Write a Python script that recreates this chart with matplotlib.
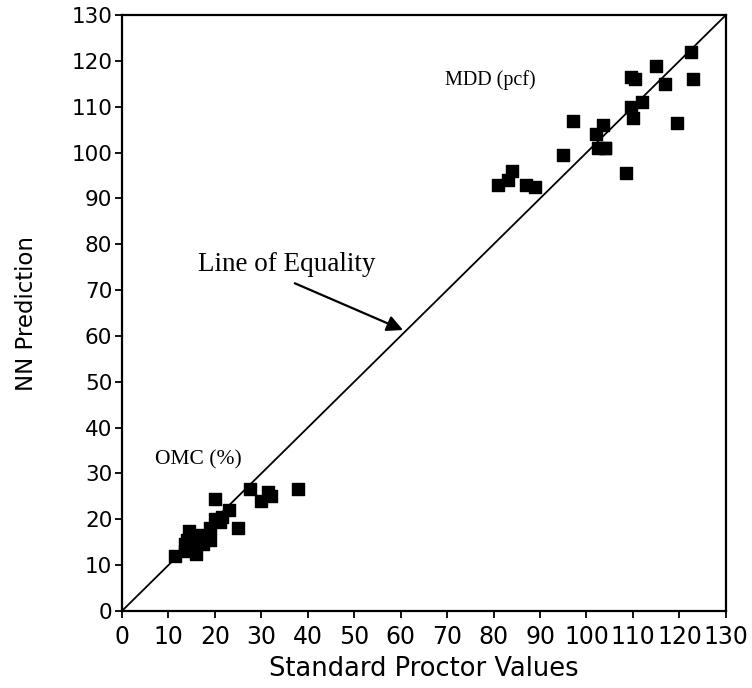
import numpy as np
import matplotlib
matplotlib.use("Agg")
import matplotlib.pyplot as plt

# MDD (pcf) points: standard proctor vs NN prediction
mdd_x = [81, 83, 84, 87, 89, 95, 97, 102, 102.5, 103.5, 104, 104, 108.5, 109.5, 110, 109.5, 110.5,
         112, 115, 117, 119.5, 122.5, 123]
mdd_y = [93, 94, 96, 93, 92.5, 99.5, 107, 104, 101, 106, 101, 101, 95.5, 110, 107.5, 116.5, 116,
         111, 119, 115, 106.5, 122, 116]

# OMC (%) points
omc_x = [11.5, 13.5, 13.5, 14, 14.5, 15.5, 16, 16, 17, 17.5, 19, 19, 20, 20, 21, 21.5, 23, 25,
         27.5, 30, 31.5, 32, 38]
omc_y = [12, 13, 14.5, 15.5, 17.5, 14, 12.5, 15.5, 16.5, 14.5, 18, 15.5, 20, 24.5, 19.5, 20.5, 22, 18,
         26.5, 24, 26, 25, 26.5]

ticks = list(range(0, 131, 10))

plt.rcParams['font.family'] = 'DejaVu Sans'
fig = plt.figure(figsize=(7.52, 6.88), dpi=100)
ax = fig.add_axes([0.1622, 0.112, 0.803, 0.866])

ax.plot([0, 130], [0, 130], color='black', lw=1.3)
ax.scatter(mdd_x, mdd_y, marker='s', s=70, color='black', zorder=3)
ax.scatter(omc_x, omc_y, marker='s', s=70, color='black', zorder=3)

ax.set_xlim(0, 130)
ax.set_ylim(0, 130)
ax.set_xticks(ticks)
ax.set_yticks(ticks)
ax.tick_params(direction='out', length=5, width=1.3, pad=2)
ax.tick_params(axis='x', labelsize=17, pad=5)
ax.tick_params(axis='y', labelsize=15.5)
for s in ax.spines.values():
    s.set_linewidth(1.6)

ax.set_xlabel('Standard Proctor Values', fontsize=18.5, labelpad=5)
ax.set_ylabel('NN Prediction', fontsize=16.5, labelpad=24)

serif = 'Liberation Serif'
ax.text(69.5, 115.8, 'MDD (pcf)', family=serif, fontsize=14.5, va='center')
ax.text(7.1, 32.9, 'OMC (%)', family=serif, fontsize=15.5, va='center')
ax.text(16.4, 75.5, 'Line of Equality', family=serif, fontsize=19.5, va='center')
ax.annotate('', xy=(60.5, 61.3), xytext=(37.2, 71.5),
            arrowprops=dict(arrowstyle='-|>', color='black', lw=1.6, mutation_scale=24,
                            shrinkA=0, shrinkB=0))

fig.savefig('out.png', dpi=100)
